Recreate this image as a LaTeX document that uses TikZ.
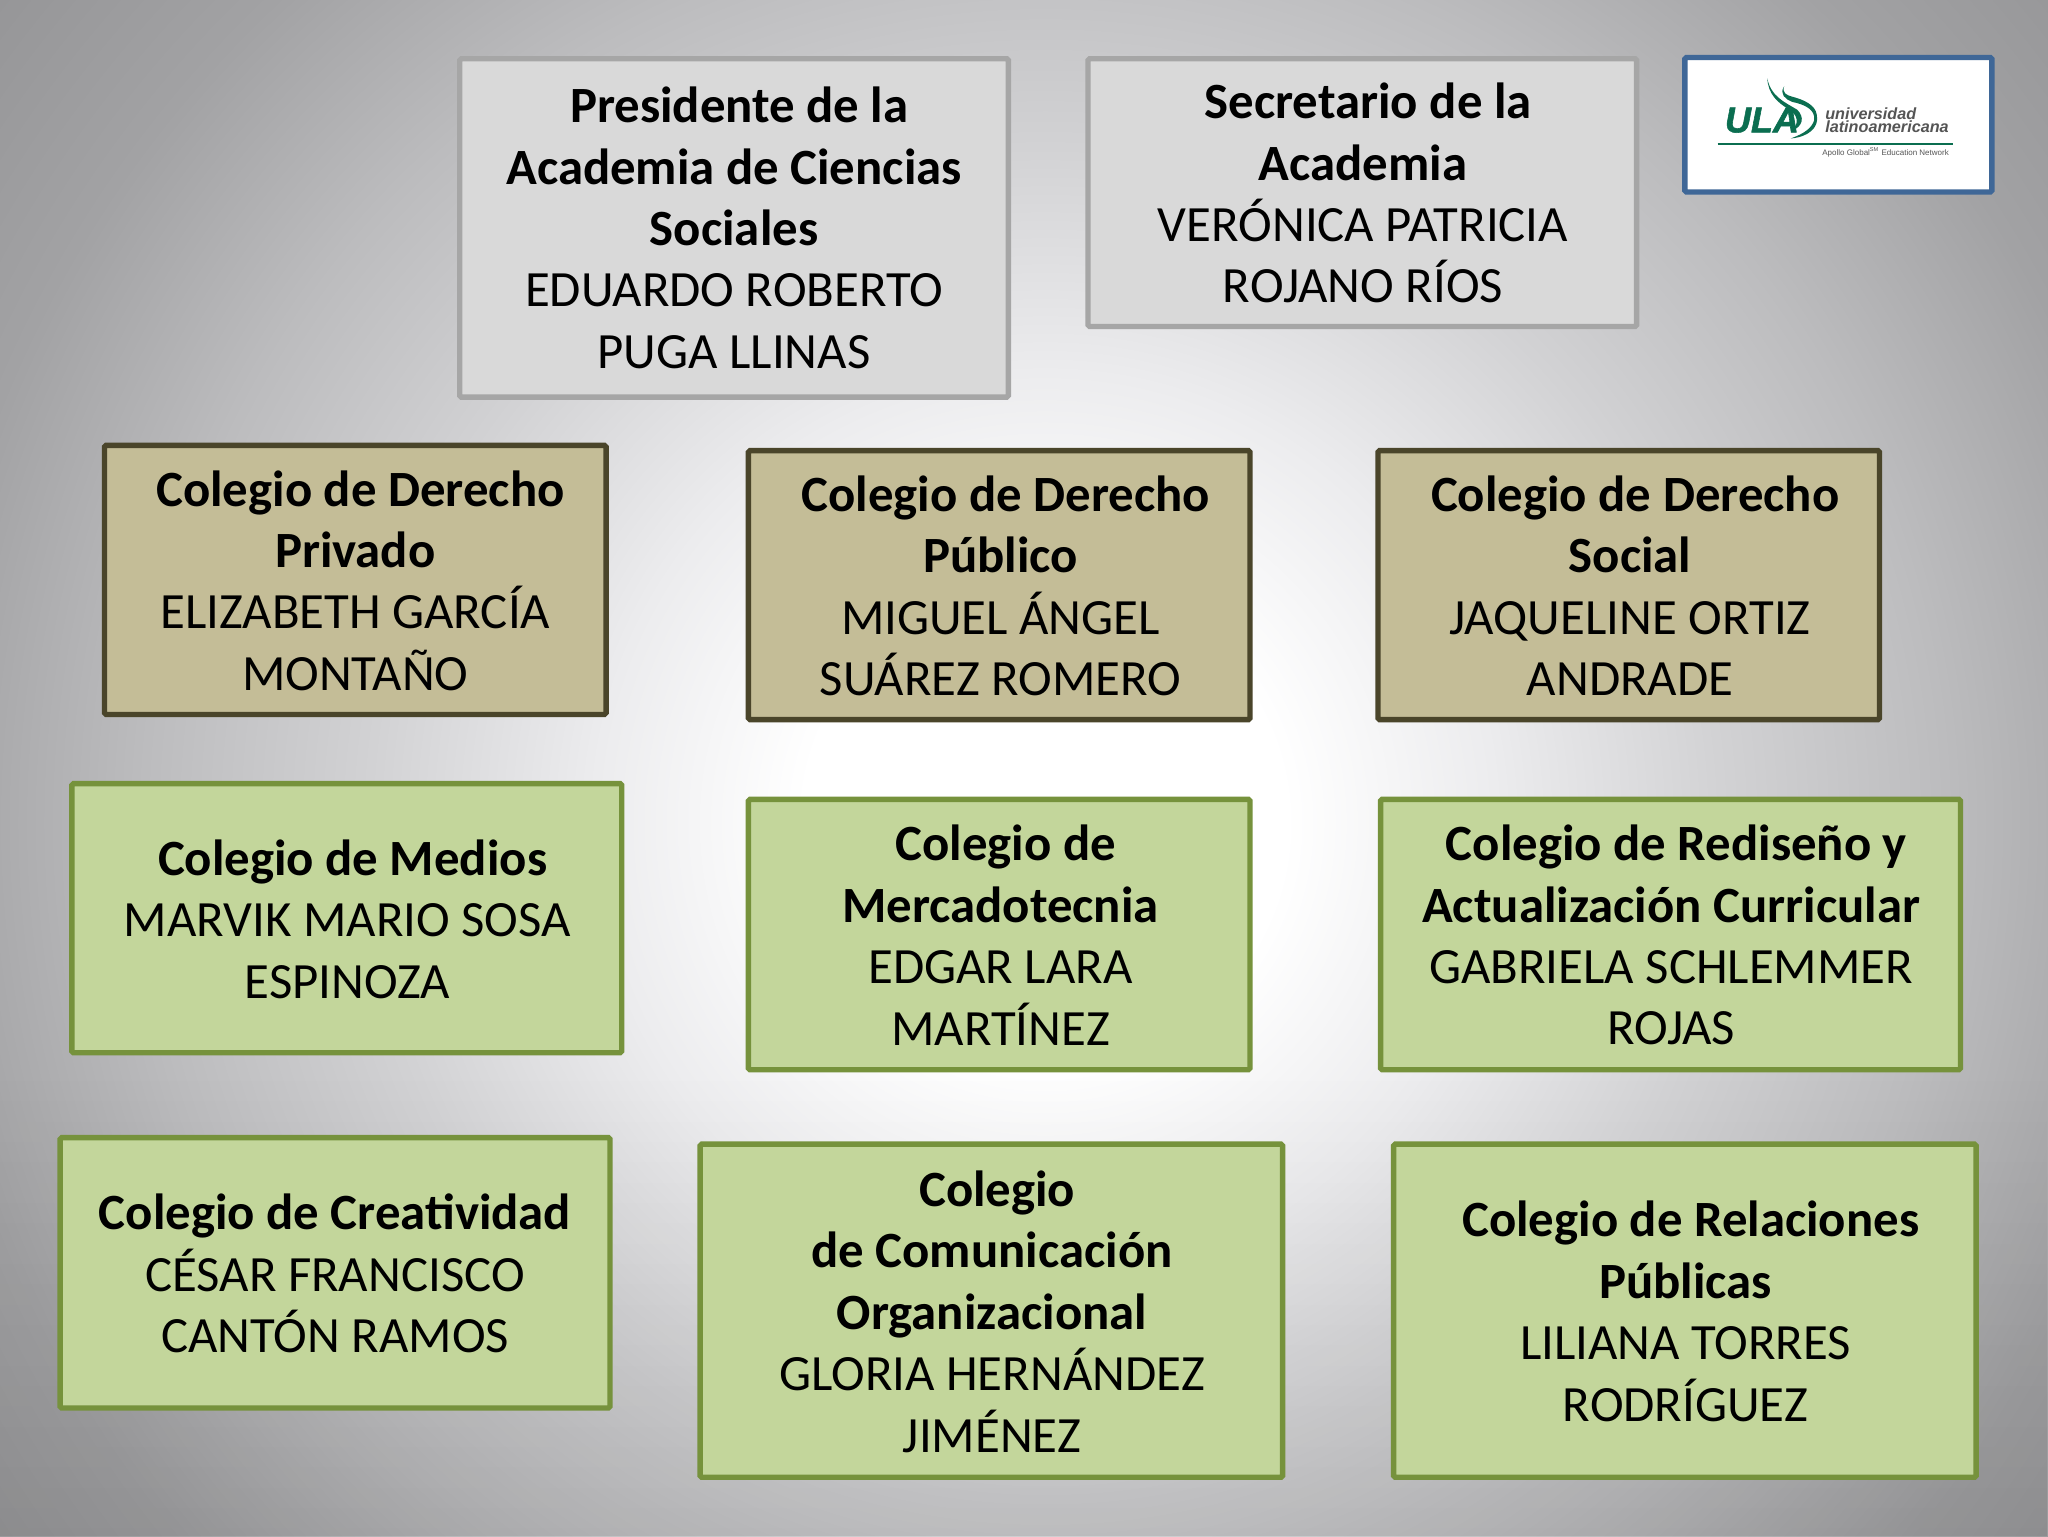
\documentclass[tikz,border=0pt]{standalone}
\usepackage{fontspec}
\setmainfont{Carlito}
\newfontfamily\logofont{Liberation Sans}
\newfontfamily\ulafont[FakeBold=1.6]{Liberation Sans}
\usetikzlibrary{fadings}
\definecolor{bgA}{HTML}{ECECEE}
\definecolor{bgB}{HTML}{D2D2D4}
\definecolor{bgC}{HTML}{BCBCBE}
\definecolor{bgD}{HTML}{A2A2A4}
\definecolor{bgE}{HTML}{8C8C8E}
\pgfdeclareradialshading{slidebg}{\pgfpoint{0bp}{0bp}}{%
  color(0bp)=(white);
  color(4bp)=(white);
  color(7.5bp)=(bgA);
  color(11.25bp)=(bgB);
  color(15bp)=(bgC);
  color(18.75bp)=(bgD);
  color(25bp)=(bgE);
  color(50bp)=(bgE)}
\tikzfading[name=bottomdark,top color=transparent!100,bottom color=transparent!91]
\definecolor{grayfill}{HTML}{D9D9D9}
\definecolor{grayline}{HTML}{A6A6A6}
\definecolor{tanfill}{HTML}{C4BD97}
\definecolor{tanline}{HTML}{4A452A}
\definecolor{greenfill}{HTML}{C3D69B}
\definecolor{greenline}{HTML}{76923C}
\definecolor{logoblue}{HTML}{3F6797}
\definecolor{ulagreen}{HTML}{0B6E50}
\definecolor{logogray}{HTML}{555555}
\newcommand{\bx}[9]{%
  \node[#2,minimum width={(#5-#3)*0.65306pt},minimum height={(#6-#4)*0.65306pt}] (#1) at ({(#3+#5)/2},{(#4+#6)/2}) {};
  \node[boxtext] (#1t) at (#7,#8) {#9};}
\newcommand{\sh}{\hspace*{5.2pt}}
\newcommand{\hd}[1]{\textbf{#1}}
\begin{document}
\begin{tikzpicture}[x=0.65306pt,y=-0.65306pt,
  basebox/.style={rectangle,draw,line width=2.7pt,inner sep=0pt,outer sep=0pt,rounded corners=0.8pt},
  graybox/.style={basebox,draw=grayline,fill=grayfill},
  tanbox/.style={basebox,draw=tanline,fill=tanfill},
  greenbox/.style={basebox,draw=greenline,fill=greenfill},
  logobox/.style={basebox,draw=logoblue,fill=white},
  boxtext/.style={align=center,inner sep=0pt,outer sep=0pt,text=black,font=\fontsize{25.4}{30.7}\selectfont},
  logotext/.style={inner sep=0pt,outer sep=0pt,text=logogray,align=left},
]
\useasboundingbox (0,0) rectangle (1568,1176);
\begin{scope}
\clip (0,0) rectangle (1568,1176);
\fill[shading=slidebg] (800,630) ellipse [x radius=1150,y radius=1150];
\fill[black,path fading=bottomdark] (0,820) rectangle (1568,1176);
\end{scope}

\bx{pres}{graybox}{352}{45}{772}{304}{562}{174.4}{\sh\hd{Presidente de la}\\\hd{Academia de Ciencias}\\\hd{Sociales}\\EDUARDO ROBERTO\\PUGA LLINAS}
\bx{secr}{graybox}{833}{45}{1253}{250}{1043.5}{147.9}{\sh\hd{Secretario de la}\\\hd{Academia}\\VERÓNICA PATRICIA\\ROJANO RÍOS}

\bx{dpriv}{tanbox}{80}{341}{464}{547}{272}{444.4}{\sh\hd{Colegio de Derecho}\\\hd{Privado}\\ELIZABETH GARCÍA\\MONTAÑO}
\bx{dpub}{tanbox}{573}{345}{957}{551}{766}{448.4}{\sh\hd{Colegio de Derecho}\\\hd{Público}\\MIGUEL ÁNGEL\\SUÁREZ ROMERO}
\bx{dsoc}{tanbox}{1055}{345}{1439}{551}{1248}{448.4}{\sh\hd{Colegio de Derecho}\\\hd{Social}\\JAQUELINE ORTIZ\\ANDRADE}

\bx{medios}{greenbox}{55}{600}{476}{806}{266}{703.6}{\sh\hd{Colegio de Medios}\\MARVIK MARIO SOSA\\ESPINOZA}
\bx{merc}{greenbox}{573}{612}{957}{819}{766}{716}{\sh\hd{Colegio de}\\\hd{Mercadotecnia}\\EDGAR LARA\\MARTÍNEZ}
\bx{redis}{greenbox}{1057}{612}{1501}{819}{1279.5}{716}{\sh\hd{Colegio de Rediseño y}\\\hd{Actualización Curricular}\\GABRIELA SCHLEMMER\\ROJAS}

\bx{creat}{greenbox}{46}{871}{467}{1078}{256.5}{975}{\hd{Colegio de Creatividad}\\CÉSAR FRANCISCO\\CANTÓN RAMOS}
\bx{comun}{greenbox}{536}{876}{982}{1131}{759.5}{1004.2}{\sh\hd{Colegio}\\\hd{de Comunicación}\\\hd{Organizacional}\\GLORIA HERNÁNDEZ\\JIMÉNEZ}
\bx{relp}{greenbox}{1067}{876}{1513}{1131}{1290.5}{1004}{\sh\hd{Colegio de Relaciones}\\\hd{Públicas}\\LILIANA TORRES\\RODRÍGUEZ}

% logo
\node[logobox,minimum width={(1525-1290)*0.65306pt},minimum height={(147-44)*0.65306pt}] (logo) at (1407.5,95.5) {};
\node[inner sep=0pt,outer sep=0pt,text=ulagreen,draw=none,font=\ulafont\bfseries\itshape\fontsize{18}{18}\selectfont] (ula) at (1349,92) {ULA};
\fill[ulagreen] (1353,60) .. controls (1354,72) and (1360,78) .. (1370,84) .. controls (1376,88) and (1378,94) .. (1372,100) .. controls (1380,97) and (1382,90) .. (1376,84) .. controls (1366,78) and (1356,74) .. (1353,60);
\fill[ulagreen] (1366,66) .. controls (1362,72) and (1367,76) .. (1372,78) .. controls (1382,80) and (1390,84) .. (1389,92) .. controls (1387,98) and (1382,102) .. (1371,106) .. controls (1384,105) and (1393,98) .. (1391,88) .. controls (1390,80) and (1380,76) .. (1372,74) .. controls (1368,73) and (1364,71) .. (1366,66);
\node[logotext,anchor=west,font=\logofont\itshape\bfseries\fontsize{8.1}{6.9}\selectfont] (univ) at (1397.5,92) {universidad\\latinoamericana};
\coordinate (ruleL) at (1315,110);
\coordinate (ruleR) at (1495,110);
\draw[ulagreen,line width=0.9pt] (ruleL) -- (ruleR);
\node[logotext,anchor=east,font=\logofont\fontsize{4}{4}\selectfont] (apollo) at (1492,117) {Apollo Global\textsuperscript{SM} Education Network};
\end{tikzpicture}
\end{document}
